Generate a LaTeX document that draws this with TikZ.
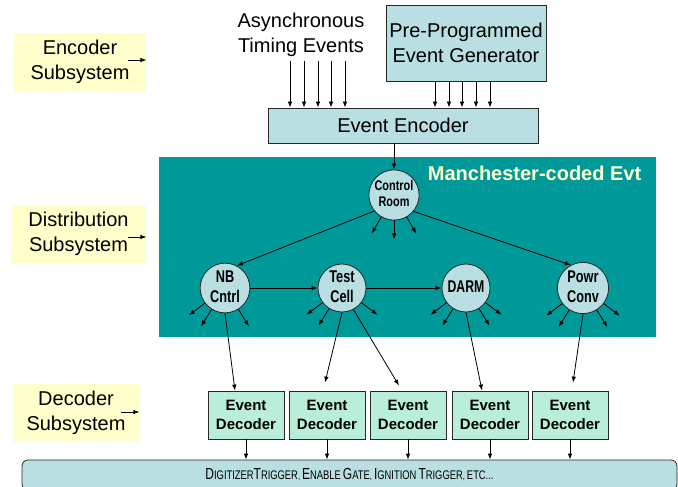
\documentclass[tikz,border=0pt]{standalone}
\usepackage{fontspec}
\setmainfont{Liberation Sans}
\usepackage{xcolor}
\usepackage{graphicx}
\usetikzlibrary{arrows.meta}

\definecolor{subyellow}{RGB}{255,255,204}
\definecolor{boxblue}{RGB}{185,223,227}
\definecolor{distteal}{RGB}{0,153,153}
\definecolor{decgreen}{RGB}{185,238,216}

\newcommand{\smcap}[2]{{\fontsize{16}{18}\selectfont #1}{\fontsize{12.5}{14}\selectfont #2}}
\newcommand{\narrow}[2]{\scalebox{#1}[1]{\begin{tabular}{@{}c@{}}#2\end{tabular}}}

\begin{document}
\begin{tikzpicture}[x=1pt,y=-1pt,>={Latex[length=6pt,width=4.5pt]},line width=0.8pt,
	subsys/.style={fill=subyellow,minimum height=58pt,align=center,font=\fontsize{20}{25}\selectfont},
	bluebox/.style={draw=black!85,fill=boxblue,align=center,font=\fontsize{20}{25}\selectfont},
	site/.style={circle,draw=black!85,fill=boxblue,minimum size=48pt,inner sep=0pt,align=center,font=\bfseries\fontsize{17}{20}\selectfont},
	decoder/.style={draw=black!85,fill=decgreen,minimum width=76pt,minimum height=48pt,inner sep=1pt,align=center,font=\bfseries\fontsize{15}{19}\selectfont}]
	\useasboundingbox (0,0) rectangle (678,487);
	
	% subsystem labels
	\node[subsys,minimum width=132pt] (encsub) at (80,62) {Encoder\\Subsystem};
	\node[subsys,minimum width=135pt] (distsub) at (78.5,234) {Distribution\\Subsystem};
	\node[subsys,minimum width=126pt] (decsub) at (76,413) {Decoder\\Subsystem};
	\draw[->] ([xshift=-18pt,yshift=2pt]encsub.east) -- ([yshift=2pt]encsub.east);
	\draw[->] ([xshift=-18pt,yshift=-3pt]distsub.east) -- ([yshift=-3pt]distsub.east);
	\draw[->] ([xshift=-18pt,yshift=1pt]decsub.east) -- ([yshift=1pt]decsub.east);
	
	% encoder
	\node[align=center,font=\fontsize{20}{25}\selectfont] (async) at (301,35) {Asynchronous\\Timing Events};
	\node[bluebox,minimum width=158pt,minimum height=76pt] (gen) at (466,43) {Pre-Programmed\\Event Generator};
	\node[bluebox,minimum width=270pt,minimum height=35pt] (enc) at (403,125.5) {Event Encoder};
	\foreach \dx in {-11,3,17,30,44}{
		\draw[->] ([xshift=\dx pt]async.south) -- ([xshift=\dx pt]async.south |- enc.north);
	}
	\foreach \dx in {-31,-17,-4,10,24}{
		\draw[->] ([xshift=\dx pt]gen.south) -- ([xshift=\dx pt]gen.south |- enc.north);
	}
	
	% distribution
	\node[fill=distteal,minimum width=497pt,minimum height=180pt] (dist) at (407.5,247) {};
	\node[anchor=east,text=subyellow,font=\bfseries\fontsize{20}{24}\selectfont] (mcode) at (645,173) {Manchester-coded Evt};
	\node[site,font=\bfseries\fontsize{14}{16}\selectfont] (ctrl) at (394,195) {\narrow{0.78}{Control\\Room}};
	\node[site] (nb) at (225,288) {\narrow{0.75}{NB\\Cntrl}};
	\node[site] (test) at (342,288) {\narrow{0.75}{Test\\Cell}};
	\node[site] (darm) at (466,288) {\narrow{0.72}{DARM}};
	\node[site] (powr) at (583,288) {\narrow{0.75}{Powr\\Conv}};
	\draw[->] (enc.south -| ctrl.north) -- (ctrl.north);
	\draw[->] (ctrl.219) -- (nb.62);
	\draw[->] (ctrl.320) -- (powr.118);
	\draw[->] (nb) -- (test);
	\draw[->] (test) -- (darm);
	\foreach \a in {240,270,300}{
		\draw[->] (ctrl.\a) -- ++(\a:19pt);
	}
	\foreach \s/\a in {nb/217,nb/238,nb/302,test/217,test/238,test/323,darm/217,darm/238,darm/302,darm/323,powr/217,powr/238,powr/302,powr/323}{
		\draw[->] (\s.\a) -- ++(\a:20pt);
	}
	
	% decoders
	\node[decoder] (dec1) at (246,415) {Event\\Decoder};
	\node[decoder] (dec2) at (327,415) {Event\\Decoder};
	\node[decoder] (dec3) at (408,415) {Event\\Decoder};
	\node[decoder] (dec4) at (490,415) {Event\\Decoder};
	\node[decoder] (dec5) at (570,415) {Event\\Decoder};
	\draw[->] (nb.south) -- ([xshift=-11pt]dec1.north);
	\draw[->] (test.south) -- ([xshift=-2pt,yshift=8pt]dec2.north);
	\draw[->] (test.298) -- ([xshift=-9pt,yshift=5pt]dec3.north);
	\draw[->] (darm.south) -- ([xshift=-8pt]dec4.north);
	\draw[->] (powr.south) -- ([xshift=3pt,yshift=8pt]dec5.north);
	
	\node[draw=black!85,fill=boxblue,rounded corners=6pt,minimum width=655pt,minimum height=30pt] (bar) at (349.5,475)
		{\scalebox{0.75}[1]{\smcap{D}{IGITIZER}\smcap{T}{RIGGER}, \smcap{E}{NABLE} \smcap{G}{ATE}, \smcap{I}{GNITION} \smcap{T}{RIGGER}, \smcap{}{ETC...}}};
	\foreach \d in {dec1,dec2,dec3,dec4,dec5}{
		\draw[->] (\d.south) -- (\d.south |- bar.north);
	}
\end{tikzpicture}
\end{document}
